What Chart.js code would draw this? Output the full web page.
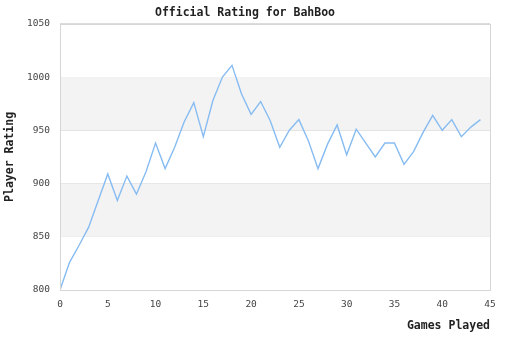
<!DOCTYPE html>
<html>
<head>
    <meta charset="utf-8">
    <title>Official Rating for BahBoo</title>
    <style>
        html, body { margin: 0; padding: 0; background: #fff; }
        #ratingChart { display: block; }
    </style>
</head>
<body>
    <div style="width:510px;height:340px;">
        <canvas id="ratingChart" width="510" height="340"></canvas>
    </div>

    <script src="https://cdn.jsdelivr.net/npm/chart.js"></script>
    <script>
        // rating after each game
        const games = [0, 1, 2, 3, 4, 5, 6, 7, 8, 9, 10, 11, 12, 13, 14, 15, 16, 17, 18, 19, 20, 21, 22,
                       23, 24, 25, 26, 27, 28, 29, 30, 31, 32, 33, 34, 35, 36, 37, 38, 39, 40, 41, 42, 43, 44];
        const ratings = [800, 826, 842, 859, 884, 909, 884, 907, 890, 911, 938, 914, 934, 958, 976, 944,
                         978, 1000, 1011, 984, 965, 977, 959, 934, 950, 960, 940, 914, 937, 955, 927,
                         951, 938, 925, 938, 938, 918, 930, 948, 964, 950, 960, 944, 953, 960];
        const yTicks = [800, 850, 900, 950, 1000, 1050];
        const xTicks = [0, 5, 10, 15, 20, 25, 30, 35, 40, 45];
        // shaded bands between these rating pairs
        const bands = [[850, 900], [950, 1000]];

        const monoFont = '"DejaVu Sans Mono", monospace';

        // grey stripes behind the line
        const bandPlugin = {
            id: 'bands',
            beforeDatasetsDraw(chart) {
                const {ctx, chartArea, scales} = chart;
                ctx.save();
                ctx.fillStyle = '#f3f3f3';
                bands.forEach(b => {
                    const top = scales.y.getPixelForValue(b[1]);
                    const bottom = scales.y.getPixelForValue(b[0]);
                    ctx.fillRect(chartArea.left, top, chartArea.right - chartArea.left, bottom - top);
                });
                ctx.restore();
            }
        };

        // box round the plot area (right side is missing otherwise)
        const framePlugin = {
            id: 'frame',
            afterDatasetsDraw(chart) {
                const {ctx, chartArea} = chart;
                ctx.save();
                ctx.strokeStyle = '#d6d6d6';
                ctx.lineWidth = 1;
                ctx.strokeRect(Math.round(chartArea.left) + 0.5, Math.round(chartArea.top) + 0.5,
                    Math.round(chartArea.right - chartArea.left), Math.round(chartArea.bottom - chartArea.top));
                ctx.restore();
            }
        };

        const ctx = document.getElementById('ratingChart').getContext('2d');
        new Chart(ctx, {
            type: 'line',
            data: {
                datasets: [{
                    label: 'Rating',
                    data: games.map((g, i) => ({x: g, y: ratings[i]})),
                    borderColor: 'rgb(135, 188, 242)',
                    borderWidth: 1.4,
                    pointRadius: 0,
                    tension: 0,
                    fill: false
                }]
            },
            plugins: [bandPlugin, framePlugin],
            options: {
                responsive: false,
                animation: false,
                layout: { padding: { left: 0, right: 20, top: 0, bottom: 0 } },
                plugins: {
                    legend: { display: false },
                    tooltip: { enabled: false },
                    title: {
                        display: true,
                        text: 'Official Rating for BahBoo',
                        color: '#222',
                        font: { family: monoFont, size: 11.5, weight: 'bold' },
                        padding: { top: 6, bottom: 4 }
                    }
                },
                scales: {
                    x: {
                        type: 'linear',
                        min: 0,
                        max: 45,
                        afterFit(scale) { scale.height = 50; },
                        afterBuildTicks(scale) { scale.ticks = xTicks.map(v => ({value: v})); },
                        grid: { display: false, drawTicks: false },
                        border: { display: true, color: '#d6d6d6' },
                        ticks: {
                            color: '#444',
                            padding: 9,
                            maxRotation: 0,
                            font: { family: monoFont, size: 9.5 },
                            callback: v => String(v)
                        },
                        title: {
                            display: true,
                            text: 'Games Played',
                            align: 'end',
                            color: '#222',
                            font: { family: monoFont, size: 11.5, weight: 'bold' },
                            padding: { top: 0, bottom: 7 }
                        }
                    },
                    y: {
                        min: 800,
                        max: 1050,
                        afterFit(scale) { scale.width = 60; },
                        afterBuildTicks(scale) { scale.ticks = yTicks.map(v => ({value: v})); },
                        grid: { color: '#dcdcdc', drawTicks: false },
                        border: { display: true, color: '#d6d6d6' },
                        ticks: {
                            color: '#444',
                            padding: 10,
                            font: { family: monoFont, size: 9.5 },
                            callback: v => String(v)
                        },
                        title: {
                            display: true,
                            text: 'Player Rating',
                            color: '#222',
                            font: { family: monoFont, size: 11.5, weight: 'bold' },
                            padding: { top: 3, bottom: 0 }
                        }
                    }
                }
            }
        });
    </script>
</body>
</html>
